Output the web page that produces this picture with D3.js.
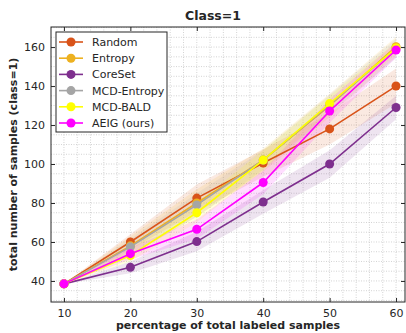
<!DOCTYPE html>
<html>
<head>
<meta charset="utf-8">
<script src="https://cdn.jsdelivr.net/npm/d3@7"></script>
<style>
  body { margin: 0; background: #fff; }
  svg text { font-family: "DejaVu Sans", sans-serif; fill: #262626; }
</style>
</head>
<body>
<svg id="chart" width="406" height="333"></svg>
<script>
// percentage of labeled samples
var xVals = [10, 20, 30, 40, 50, 60];
var xTicks = [10, 20, 30, 40, 50, 60];
var yTicks = [40, 60, 80, 100, 120, 140, 160];

var seriesNames = ["Random", "Entropy", "CoreSet", "MCD-Entropy", "MCD-BALD", "AEIG (ours)"];
var seriesColors = ["#D95319", "#EDB120", "#7E2F8E", "#A5A5A5", "#FFFF00", "#FF00FF"];

// mean values
var randomVals  = [38.5, 60, 82.5, 100.5, 118, 140];
var entropyVals = [38.5, 58, 80, 102, 130, 160.2];
var coresetVals = [38.5, 47, 60.2, 80.5, 100, 129];
var mcdEntVals  = [38.5, 57.5, 79, 102, 130.5, 159.3];
var mcdBaldVals = [38.5, 53, 75, 102, 131, 159.5];
var aeigVals    = [38.5, 54, 66.5, 90.5, 127.2, 158.5];

// half-width of the shaded bands
var randomSd  = [0, 4, 7, 7, 8, 9];
var entropySd = [0, 5, 7, 6, 6, 5];
var coresetSd = [0, 3, 5, 6, 7, 6];
var mcdEntSd  = [0, 4, 6, 5, 5, 5];
var mcdBaldSd = [0, 3, 5, 5, 4, 3];
var aeigSd    = [0, 3, 5, 6, 6, 4];

var allVals = [randomVals, entropyVals, coresetVals, mcdEntVals, mcdBaldVals, aeigVals];
var allSd = [randomSd, entropySd, coresetSd, mcdEntSd, mcdBaldSd, aeigSd];

var margin = { left: 51, top: 27, right: 1, bottom: 31 };
var W = 406, H = 333;
var iw = W - margin.left - margin.right;
var ih = H - margin.top - margin.bottom;

var svg = d3.select("#chart");
var g = svg.append("g").attr("transform", "translate(" + margin.left + "," + margin.top + ")");

var x = d3.scaleLinear().domain([8.05, 61.35]).range([0, iw]);
var y = d3.scaleLinear().domain([29.2, 170.3]).range([ih, 0]);

// minor grid
var xMinor = d3.range(10, 61, 2);
var yMinor = d3.range(30, 171, 5);
g.append("g").selectAll("line").data(xMinor).enter().append("line")
  .attr("x1", function(d) { return x(d); }).attr("x2", function(d) { return x(d); })
  .attr("y1", 0).attr("y2", ih)
  .attr("stroke", "#c8c8c8").attr("stroke-width", 0.8).attr("stroke-dasharray", "1,1.5");
g.append("g").selectAll("line").data(yMinor).enter().append("line")
  .attr("y1", function(d) { return y(d); }).attr("y2", function(d) { return y(d); })
  .attr("x1", 0).attr("x2", iw)
  .attr("stroke", "#c8c8c8").attr("stroke-width", 0.8).attr("stroke-dasharray", "1,1.5");

// bands
var area = d3.area()
  .x(function(d, i) { return x(xVals[i]); })
  .y0(function(d) { return y(d[0]); })
  .y1(function(d) { return y(d[1]); });

allVals.forEach(function(vals, s) {
  var band = vals.map(function(v, i) { return [v - allSd[s][i], v + allSd[s][i]]; });
  g.append("path").datum(band)
    .attr("d", area)
    .attr("fill", seriesColors[s])
    .attr("fill-opacity", 0.13);
});

var line = d3.line()
  .x(function(d, i) { return x(xVals[i]); })
  .y(function(d) { return y(d); });

allVals.forEach(function(vals, s) {
  g.append("path").datum(vals)
    .attr("d", line)
    .attr("fill", "none")
    .attr("stroke", seriesColors[s])
    .attr("stroke-width", 1.6);
  g.append("g").selectAll("circle").data(vals).enter().append("circle")
    .attr("cx", function(d, i) { return x(xVals[i]); })
    .attr("cy", function(d) { return y(d); })
    .attr("r", 4.5)
    .attr("fill", seriesColors[s]);
});

// box + inward ticks
g.append("rect").attr("width", iw).attr("height", ih)
  .attr("fill", "none").attr("stroke", "#262626").attr("stroke-width", 1);

var xb = d3.axisBottom(x).tickValues(xTicks).tickSizeInner(-4).tickSizeOuter(0).tickPadding(7);
var xt = d3.axisTop(x).tickValues(xTicks).tickSizeInner(-4).tickSizeOuter(0).tickFormat("");
var yl = d3.axisLeft(y).tickValues(yTicks).tickSizeInner(-4).tickSizeOuter(0).tickPadding(6);
var yr = d3.axisRight(y).tickValues(yTicks).tickSizeInner(-4).tickSizeOuter(0).tickFormat("");

function styleAxis(sel) {
  sel.select(".domain").remove();
  sel.selectAll("line").attr("stroke", "#262626");
  sel.selectAll("text").attr("font-size", 11).attr("fill", "#262626")
    .attr("font-family", "DejaVu Sans, sans-serif");
}
g.append("g").attr("transform", "translate(0," + ih + ")").call(xb).call(styleAxis);
g.append("g").call(xt).call(styleAxis);
g.append("g").call(yl).call(styleAxis);
g.append("g").attr("transform", "translate(" + iw + ",0)").call(yr).call(styleAxis);

// labels
svg.append("text").attr("x", 213).attr("y", 20).attr("text-anchor", "middle")
  .attr("font-size", 12.5).attr("font-weight", "bold").text("Class=1");
svg.append("text").attr("x", 228).attr("y", 329).attr("text-anchor", "middle")
  .attr("font-size", 11).attr("font-weight", "bold").text("percentage of total labeled samples");
svg.append("text").attr("transform", "translate(17," + (margin.top + ih / 2) + ") rotate(-90)")
  .attr("text-anchor", "middle").attr("font-size", 11).attr("font-weight", "bold")
  .text("total number of samples (class=1)");

// legend
var leg = svg.append("g").attr("transform", "translate(56,32)");
leg.append("rect").attr("width", 111).attr("height", 100)
  .attr("fill", "#fff").attr("stroke", "#262626").attr("stroke-width", 1);
seriesNames.forEach(function(name, s) {
  var ly = 10 + s * 16.2;
  leg.append("line").attr("x1", 3).attr("x2", 27).attr("y1", ly).attr("y2", ly)
    .attr("stroke", seriesColors[s]).attr("stroke-width", 1.6);
  leg.append("circle").attr("cx", 15).attr("cy", ly).attr("r", 4.5).attr("fill", seriesColors[s]);
  leg.append("text").attr("x", 36).attr("y", ly + 4).attr("font-size", 11).text(name);
});
</script>
</body>
</html>
